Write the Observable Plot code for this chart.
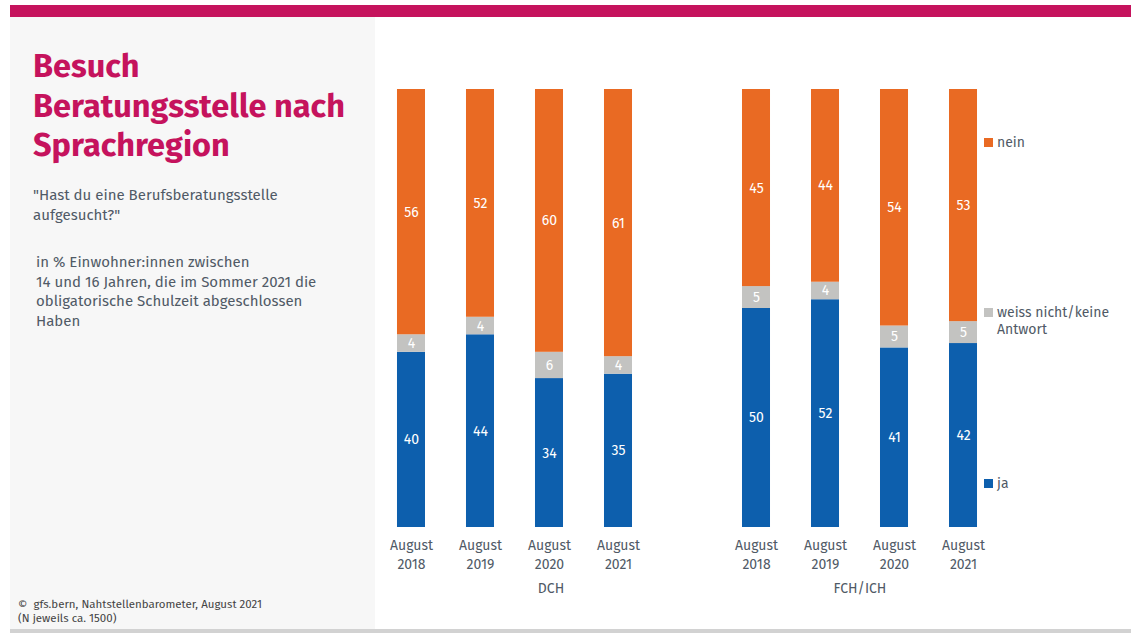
<!DOCTYPE html>
<html>
<head>
<meta charset="utf-8">
<script src="https://cdn.jsdelivr.net/npm/d3@7"></script>
<script src="https://cdn.jsdelivr.net/npm/@observablehq/plot@0.6"></script>
<style>
  html, body { margin: 0; padding: 0; background: #fff; }
  #page { position: relative; width: 1131px; height: 633px; overflow: hidden; font-family: "Fira Sans", Roboto, "Noto Sans", sans-serif; color: #505a66; }
  #topbar { position: absolute; left: 10px; top: 5px; width: 1121px; height: 12px; background: #c5135d; }
  #panel { position: absolute; left: 10px; top: 17px; width: 365px; height: 612px; background: #f7f7f7; }
  #bottomline { position: absolute; left: 10px; top: 629px; width: 1121px; height: 4px; background: #d2d2d2; }
  #title { position: absolute; left: 33px; top: 47px; font-size: 32.5px; font-weight: bold; line-height: 39.5px; color: #c5135d; white-space: nowrap; }
  #question { position: absolute; left: 33px; top: 186px; font-size: 15px; line-height: 19.5px; white-space: nowrap; }
  #note { position: absolute; left: 36px; top: 253px; font-size: 15px; line-height: 19.5px; white-space: nowrap; }
  #source { position: absolute; left: 18px; top: 597px; font-size: 11.5px; line-height: 14px; color: #444; white-space: nowrap; }
  #chart { position: absolute; left: 340px; top: 0px; }
  .lg { position: absolute; left: 984px; font-size: 14px; line-height: 17px; white-space: nowrap; }
  .lg span.sw { position: absolute; left: 0; top: 4px; width: 9px; height: 9px; }
  .lg span.tx { position: absolute; left: 13px; top: 0; }
</style>
</head>
<body>
<div id="page">
  <div id="topbar"></div>
  <div id="panel"></div>
  <div id="bottomline"></div>
  <div id="title">Besuch<br>Beratungsstelle nach<br>Sprachregion</div>
  <div id="question">"Hast du eine Berufsberatungsstelle<br>aufgesucht?"</div>
  <div id="note">in % Einwohner:innen zwischen<br>14 und 16 Jahren, die im Sommer 2021 die<br>obligatorische Schulzeit abgeschlossen<br>Haben</div>
  <div id="source">©&nbsp; gfs.bern, Nahtstellenbarometer, August 2021<br>(N jeweils ca. 1500)</div>
  <div id="chart"></div>
  <div id="legend"></div>
</div>
<script>
// ---- data ----
const groups = ["DCH", "FCH/ICH"];
const years = ["August\n2018", "August\n2019", "August\n2020", "August\n2021"];
const answers = ["ja", "weiss nicht/keine Antwort", "nein"];
const colors = ["#0d5fad", "#c3c3c1", "#e96a23"];
// values per bar: DCH 2018..2021, FCH/ICH 2018..2021
const ja    = [40, 44, 34, 35, 50, 52, 41, 42];
const weiss = [4, 4, 6, 4, 5, 4, 5, 5];
const nein  = [56, 52, 60, 61, 45, 44, 54, 53];

const series = [ja, weiss, nein];
const rows = [];
groups.forEach((g, gi) => {
  years.forEach((yr, yi) => {
    const i = gi * years.length + yi;
    answers.forEach((a, ai) => {
      rows.push({group: g, year: yr, answer: a, value: series[ai][i]});
    });
  });
});
const groupLabels = groups.map(g => ({group: g}));

const font = "'Fira Sans', Roboto, 'Noto Sans', sans-serif";

const chart = Plot.plot({
  width: 700,
  height: 620,
  marginLeft: 16,
  marginRight: 22,
  marginTop: 89,
  marginBottom: 93,
  style: {fontFamily: font, fontSize: "14px", color: "#505a66", background: "transparent"},
  fx: {domain: groups, paddingInner: 0.0812, paddingOuter: 0, round: false, axis: null},
  x: {domain: years, padding: 0.594, round: false, label: null, axis: null},
  y: {domain: [0, 100], axis: null},
  color: {domain: answers, range: colors},
  marks: [
    Plot.barY(rows, Plot.stackY({fx: "group", x: "year", y: "value", fill: "answer", order: null})),
    Plot.text(rows, Plot.stackY({fx: "group", x: "year", y: "value", z: "answer", order: null, text: d => String(d.value), fill: "white", fontSize: 14})),
    Plot.axisX({tickSize: 0, tickPadding: 10, lineHeight: 1.3, fontSize: 14, fill: "#505a66", label: null}),
    Plot.text(groupLabels.filter(d => d.group === "DCH"), {fx: "group", text: "group", frameAnchor: "bottom", dy: 65, dx: 36, fill: "#505a66", fontSize: 14}),
    Plot.text(groupLabels.filter(d => d.group !== "DCH"), {fx: "group", text: "group", frameAnchor: "bottom", dy: 65, dx: 0, fill: "#505a66", fontSize: 14})
  ]
});
document.getElementById("chart").appendChild(chart);

// legend
const legendTops = {"nein": 134, "weiss nicht/keine Antwort": 304, "ja": 475};
const legendText = {"nein": "nein", "weiss nicht/keine Antwort": "weiss nicht/keine<br>Antwort", "ja": "ja"};
const lg = document.getElementById("legend");
answers.forEach((a, i) => {
  const d = document.createElement("div");
  d.className = "lg";
  d.style.top = legendTops[a] + "px";
  d.innerHTML = `<span class="sw" style="background:${colors[i]}"></span><span class="tx">${legendText[a]}</span>`;
  lg.appendChild(d);
});
</script>
</body>
</html>
